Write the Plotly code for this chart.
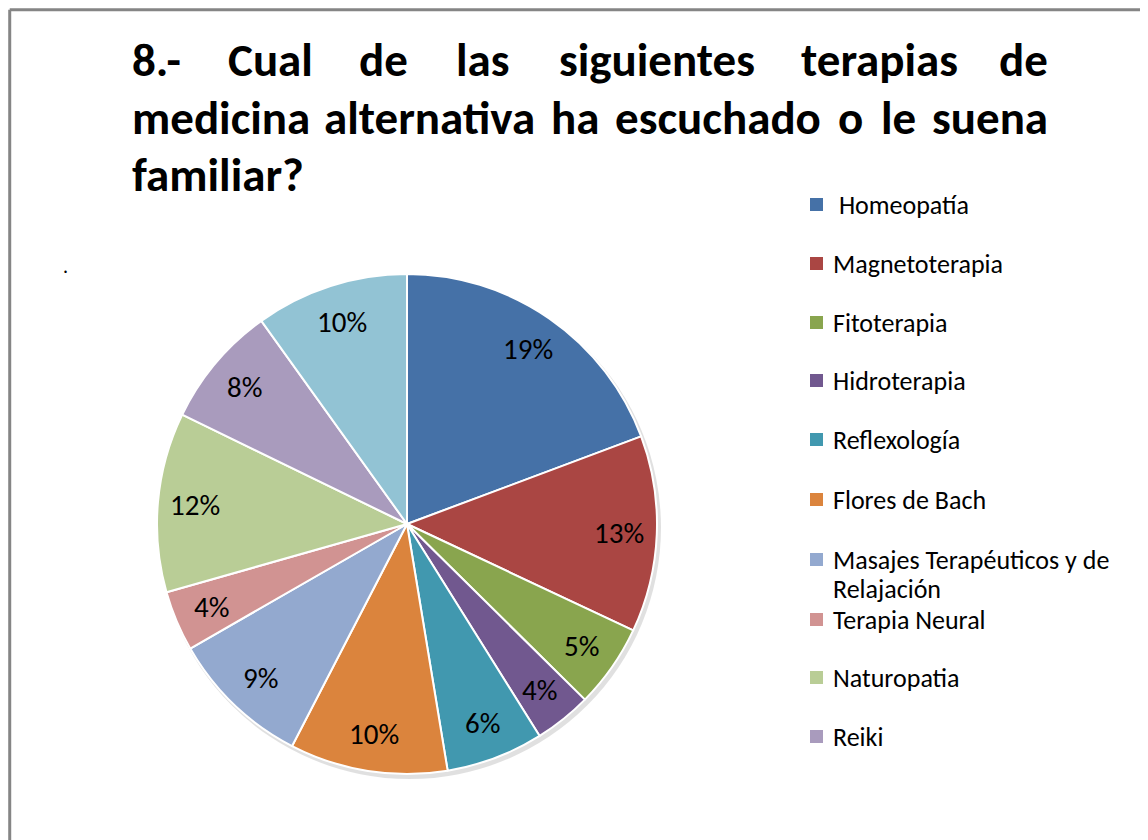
import math
import plotly.graph_objects as go

# ---- data ----
categories = ["Homeopatía", "Magnetoterapia", "Fitoterapia", "Hidroterapia",
              "Reflexología", "Flores de Bach", "Masajes Terapéuticos y de Relajación",
              "Terapia Neural", "Naturopatia", "Reiki", "Otras"]
values = [19.3, 12.7, 5.4, 3.7, 6.3, 10.2, 9.1, 3.9, 11.6, 7.9, 9.9]
colors = ["#4571A7", "#AA4643", "#89A54E", "#71588F", "#4198AF", "#DB843D",
          "#93A9CF", "#D19392", "#B9CD96", "#A99BBD", "#92C3D4"]
legend_labels = [" Homeopatía", "Magnetoterapia", "Fitoterapia", "Hidroterapia",
                 "Reflexología", "Flores de Bach", "Masajes Terapéuticos y de",
                 "Terapia Neural", "Naturopatia", "Reiki"]
legend_wrap = "Relajación"

W, H = 1148, 840
OFF = 8  # page offset of the figure in the browser
CX, CY, R = 407, 524, 250  # pie centre / radius in screen px
FONT = "Carlito, Lato, sans-serif"

def px(x):
    return (x - OFF) / W

def py(y):
    return 1 - (y - OFF) / H

fig = go.Figure()

fig.add_trace(go.Pie(
    labels=categories, values=values, sort=False, direction="clockwise",
    rotation=0, textinfo="none", hoverinfo="label+percent",
    marker=dict(colors=colors, line=dict(color="white", width=2)),
    domain=dict(x=[px(CX - R), px(CX + R)], y=[py(CY + R), py(CY - R)]),
    showlegend=False,
))

annotations = []
shapes = []

# percentage labels inside slices, placed from the data
total = sum(values)
cum = 0.0
for v in values:
    mid = (cum + v / 2) / total * 2 * math.pi
    cum += v
    r = 0.85 * R
    x = CX + r * math.sin(mid)
    y = CY - r * math.cos(mid)
    annotations.append(dict(x=px(x), y=py(y), xref="paper", yref="paper",
                            text=f"{round(v / total * 100)}%", showarrow=False,
                            font=dict(family=FONT, size=29, color="black"),
                            xanchor="center", yanchor="middle"))

# title (justified, word by word): (words, x positions, anchors, y)
title_lines = [
    (["8.-", "Cual", "de", "las", "siguientes", "terapias", "de"],
     [130, 270, 383, 483, 657, 879, 1050],
     ["left", "center", "center", "center", "center", "center", "right"], 60),
    (["medicina", "alternativa", "ha", "escuchado", "o", "le", "suena"],
     [130, 429, 575, 718, 850, 898, 1050],
     ["left", "center", "center", "center", "center", "center", "right"], 118),
    (["familiar?"], [130], ["left"], 175),
]
for words, xs, anchors, yy in title_lines:
    for w, xx, an in zip(words, xs, anchors):
        annotations.append(dict(x=px(xx), y=py(yy), xref="paper", yref="paper",
                                text=f"<b>{w}</b>", showarrow=False,
                                font=dict(family=FONT, size=47, color="black"),
                                xanchor=an, yanchor="middle"))

# legend
leg_y = [205, 264, 323, 381, 440, 500, 560, 620, 678, 737]
for lab, c, ly in zip(legend_labels, colors, leg_y):
    annotations.append(dict(x=px(831), y=py(ly), xref="paper", yref="paper",
                            text=lab, showarrow=False, align="left",
                            font=dict(family=FONT, size=26, color="black"),
                            xanchor="left", yanchor="middle"))
    shapes.append(dict(type="rect", xref="paper", yref="paper",
                       x0=px(810), x1=px(823), y0=py(ly + 6), y1=py(ly - 7),
                       fillcolor=c, line=dict(width=0)))
annotations.append(dict(x=px(831), y=py(589), xref="paper", yref="paper",
                        text=legend_wrap, showarrow=False, align="left",
                        font=dict(family=FONT, size=26, color="black"),
                        xanchor="left", yanchor="middle"))

# stray dot
annotations.append(dict(x=px(61), y=py(252), xref="paper", yref="paper",
                        text=".", showarrow=False,
                        font=dict(family=FONT, size=20, color="black")))

# frame lines (top and left)
shapes.append(dict(type="line", xref="paper", yref="paper",
                   x0=0.0015, x1=1, y0=0.998, y1=0.998,
                   line=dict(color="#858585", width=3)))
shapes.append(dict(type="line", xref="paper", yref="paper",
                   x0=0.0015, x1=0.0015, y0=0.998, y1=0,
                   line=dict(color="#858585", width=3)))

# soft shadow under pie
shapes.append(dict(type="circle", xref="paper", yref="paper", layer="below",
                   x0=px(CX - R + 1), x1=px(CX + R + 4),
                   y0=py(CY + R + 5), y1=py(CY - R + 2),
                   fillcolor="rgba(0,0,0,0.12)", line=dict(width=0)))

fig.update_layout(
    width=W, height=H, margin=dict(l=0, r=0, t=0, b=0),
    paper_bgcolor="white", plot_bgcolor="white",
    annotations=annotations, shapes=shapes,
)

fig.write_html("out.html")
